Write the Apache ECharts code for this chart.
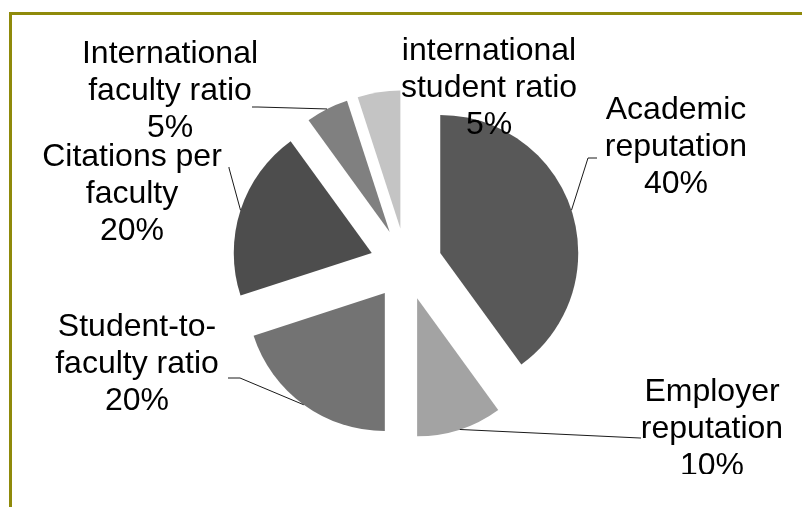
<!DOCTYPE html>
<html>
<head>
<meta charset="utf-8">
<script src="https://cdn.jsdelivr.net/npm/echarts@6/dist/echarts.min.js"></script>
<style>
html,body{margin:0;padding:0;background:#fff;}
#c{width:802px;height:507px;}
</style>
</head>
<body>
<div id="c"></div>
<script>
// ---- data ----
const categories = ['Academic\nreputation', 'Employer\nreputation', 'Student-to-\nfaculty ratio', 'Citations per\nfaculty', 'International\nfaculty ratio', 'international\nstudent ratio'];
const values = [40, 10, 20, 20, 5, 5];
const colors = ['#585858', '#a3a3a3', '#737373', '#4d4d4d', '#808080', '#c4c4c4'];

// ---- layout (not data) ----
const CENTER = [406, 264];
const RADIUS = 138;
const OFFSET = 36;
const labelAnchors = [[676, 147], [712, 429], [137, 364], [132, 194], [170, 91], [489, 88]];
const lineElbows = [
  [[588, 158], [597, 158]],
  [[640, 438], [641, 438]],
  [[240, 378], [228, 378]],
  [[229, 168], [229, 167]],
  [[258, 107], [252, 107]],
  null
];

const total = values.reduce((a, b) => a + b, 0);
function midAngle(i) {
  let s = 0;
  for (let k = 0; k < i; k++) s += values[k];
  return ((s + values[i] / 2) / total) * 2 * Math.PI;
}

const chart = echarts.init(document.getElementById('c'), null, {renderer: 'canvas'});
chart.setOption({
  animation: false,
  backgroundColor: '#ffffff',
  graphic: [
    {type: 'rect', z: 100, shape: {x: 13, y: 474, width: 789, height: 33}, style: {fill: '#ffffff'}},
    {type: 'rect', z: 101, shape: {x: 9, y: 12, width: 3, height: 495}, style: {fill: '#8f8a0a'}},
    {type: 'rect', z: 101, shape: {x: 9, y: 12, width: 793, height: 3}, style: {fill: '#8f8a0a'}}
  ],
  series: [{
    // exploded slices
    type: 'pie',
    center: CENTER,
    radius: RADIUS,
    startAngle: 90,
    clockwise: true,
    selectedMode: 'multiple',
    selectedOffset: OFFSET,
    silent: true,
    itemStyle: {borderWidth: 0},
    emphasis: {disabled: true},
    label: {show: false},
    labelLine: {show: false},
    data: categories.map((name, i) => ({
      name: name,
      value: values[i],
      selected: true,
      itemStyle: {color: colors[i]}
    }))
  }, {
    // labels with leader lines (invisible sectors)
    type: 'pie',
    center: CENTER,
    radius: RADIUS,
    startAngle: 90,
    clockwise: true,
    silent: true,
    z: 3,
    avoidLabelOverlap: false,
    itemStyle: {color: 'rgba(0,0,0,0)', borderWidth: 0},
    emphasis: {disabled: true},
    label: {
      show: true,
      position: 'outside',
      formatter: '{b}\n{c}%',
      fontFamily: 'Liberation Sans, Arial, sans-serif',
      fontSize: 32,
      lineHeight: 37,
      color: '#000000',
      align: 'center'
    },
    labelLine: {show: true, lineStyle: {color: '#1a1a1a', width: 1}},
    labelLayout: function (params) {
      const i = params.dataIndex;
      const a = midAngle(i);
      const r = RADIUS + OFFSET;
      const p0 = [CENTER[0] + r * Math.sin(a), CENTER[1] - r * Math.cos(a)];
      const res = {
        x: labelAnchors[i][0],
        y: labelAnchors[i][1],
        align: 'center',
        verticalAlign: 'middle'
      };
      if (lineElbows[i]) {
        res.labelLinePoints = [p0, lineElbows[i][0], lineElbows[i][1]];
      }
      return res;
    },
    data: categories.map((name, i) => ({
      name: name,
      value: values[i],
      labelLine: {show: lineElbows[i] !== null}
    }))
  }]
});
</script>
</body>
</html>
